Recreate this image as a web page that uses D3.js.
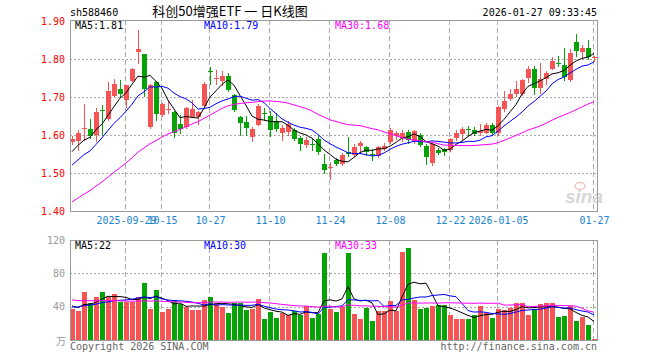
<!DOCTYPE html>
<meta charset="utf-8">
<style>

body {
  margin: 0;
  background: #fff;
}

svg {
  display: block;
  font-family: "DejaVu Sans Mono", monospace;
  font-size: 10px;
}

.frame {
  fill: none;
  stroke: #999;
  shape-rendering: crispEdges;
}

.hgrid {
  stroke: #aaa;
  stroke-dasharray: 2,2;
  shape-rendering: crispEdges;
}

.vgrid {
  stroke: #aaa;
  stroke-dasharray: 5,3;
  shape-rendering: crispEdges;
}

.ma {
  fill: none;
  stroke-width: 1;
}

.axis .domain,
.axis line {
  display: none;
}

</style>
<body>
<svg id="chart" width="660" height="360"></svg>
<script src="https://cdn.jsdelivr.net/npm/d3@7"></script>
<script>

var dates = [
  "2025-09-16","2025-09-17","2025-09-18","2025-09-19","2025-09-22","2025-09-23","2025-09-24","2025-09-25","2025-09-26","2025-09-29","2025-09-30",
  "2025-10-09","2025-10-10","2025-10-13","2025-10-14","2025-10-15","2025-10-16","2025-10-17","2025-10-20","2025-10-21","2025-10-22","2025-10-23","2025-10-24","2025-10-27","2025-10-28","2025-10-29","2025-10-30","2025-10-31",
  "2025-11-03","2025-11-04","2025-11-05","2025-11-06","2025-11-07","2025-11-10","2025-11-11","2025-11-12","2025-11-13","2025-11-14","2025-11-17","2025-11-18","2025-11-19","2025-11-20","2025-11-21","2025-11-24","2025-11-25","2025-11-26","2025-11-27","2025-11-28",
  "2025-12-01","2025-12-02","2025-12-03","2025-12-04","2025-12-05","2025-12-08","2025-12-09","2025-12-10","2025-12-11","2025-12-12","2025-12-15","2025-12-16","2025-12-17","2025-12-18","2025-12-19","2025-12-22","2025-12-23","2025-12-24","2025-12-25","2025-12-26","2025-12-29","2025-12-30","2025-12-31",
  "2026-01-05","2026-01-06","2026-01-07","2026-01-08","2026-01-09","2026-01-12","2026-01-13","2026-01-14","2026-01-15","2026-01-16","2026-01-19","2026-01-20","2026-01-21","2026-01-22","2026-01-23","2026-01-26","2026-01-27"
];

var open = [
  1.581,1.583,1.615,1.617,1.601,1.665,1.643,1.704,1.722,1.691,1.744,
  1.816,1.814,1.622,1.739,1.652,1.667,1.661,1.629,1.621,1.649,1.649,1.678,1.769,1.747,1.744,1.756,1.704,
  1.647,1.633,1.597,1.627,1.657,1.649,1.636,1.605,1.610,1.614,1.592,1.576,1.577,1.590,1.525,1.512,1.535,1.525,1.555,1.548,
  1.570,1.568,1.549,1.544,1.563,1.581,1.595,1.590,1.607,1.583,1.601,1.570,1.526,1.561,1.562,1.561,1.590,1.604,1.617,1.614,1.604,1.607,1.627,
  1.605,1.667,1.695,1.709,1.709,1.750,1.774,1.724,1.746,1.776,1.790,1.785,1.744,1.844,1.820,1.829,1.802
];

var high = [
  1.598,1.614,1.682,1.643,1.670,1.680,1.739,1.747,1.746,1.731,1.776,
  1.877,1.814,1.735,1.742,1.684,1.693,1.663,1.652,1.674,1.693,1.663,1.740,1.779,1.772,1.768,1.763,1.709,
  1.650,1.649,1.621,1.682,1.671,1.662,1.658,1.625,1.636,1.618,1.598,1.595,1.589,1.601,1.550,1.528,1.539,1.553,1.595,1.575,
  1.585,1.572,1.563,1.572,1.578,1.618,1.610,1.614,1.612,1.614,1.605,1.575,1.579,1.565,1.566,1.592,1.614,1.620,1.623,1.621,1.630,1.632,1.632,
  1.676,1.715,1.721,1.741,1.748,1.781,1.781,1.789,1.768,1.805,1.809,1.829,1.825,1.867,1.837,1.849,1.809
];

var low = [
  1.577,1.560,1.588,1.592,1.583,1.601,1.640,1.702,1.700,1.674,1.741,
  1.789,1.702,1.619,1.640,1.649,1.658,1.595,1.605,1.618,1.647,1.630,1.676,1.735,1.735,1.732,1.715,1.662,
  1.601,1.601,1.583,1.625,1.640,1.597,1.610,1.588,1.601,1.588,1.560,1.568,1.561,1.551,1.500,1.485,1.522,1.522,1.544,1.544,
  1.553,1.548,1.535,1.541,1.560,1.578,1.590,1.583,1.580,1.579,1.570,1.525,1.522,1.550,1.547,1.557,1.588,1.586,1.601,1.601,1.601,1.604,1.601,
  1.601,1.662,1.693,1.702,1.706,1.739,1.709,1.711,1.733,1.774,1.781,1.746,1.741,1.807,1.803,1.800,1.796
];

var close = [
  1.590,1.604,1.618,1.599,1.661,1.662,1.717,1.735,1.709,1.731,1.775,
  1.825,1.721,1.732,1.654,1.682,1.669,1.605,1.617,1.671,1.669,1.661,1.735,1.766,1.749,1.756,1.719,1.665,
  1.630,1.618,1.617,1.677,1.655,1.611,1.614,1.618,1.630,1.590,1.575,1.588,1.575,1.557,1.509,1.515,1.525,1.548,1.550,1.568,
  1.579,1.554,1.547,1.568,1.572,1.612,1.604,1.604,1.585,1.610,1.575,1.540,1.575,1.554,1.554,1.590,1.604,1.617,1.616,1.604,1.610,1.627,1.606,
  1.674,1.689,1.709,1.722,1.746,1.774,1.724,1.747,1.763,1.796,1.789,1.754,1.815,1.820,1.830,1.805,1.804
];

var volume = [
  37.2,34.8,57.6,44.8,51.2,57.6,51.2,55.2,45.6,45.6,45.6,
  51.2,68.8,37.2,60,33.6,37.2,48,43.2,39.6,36.4,36.4,48,52,44,40,33,44.8,
  44.8,36,37,49.6,25.2,34,26.8,32,30,35.2,30,41.2,26.8,31.2,104.8,37.2,33.6,39.6,104.8,31.2,
  25.2,38.8,22.8,35.2,35.2,46.8,35.2,106,110.8,48,37.2,38.8,40.4,41.6,41.6,30,25.2,25.2,25.2,30,40.4,32,26.8,
  37.2,36,39,44,44,30,37.2,43.2,44.8,44.8,27.6,28.8,41,23,27.6,18,1.2
];

// closes and volumes of the 29 sessions before the window, for the averages
var prevClose = [
  1.30,1.31,1.32,1.31,1.33,1.34,1.35,1.34,1.36,1.37,1.38,1.39,1.40,1.41,1.40,1.42,1.43,1.44,1.45,1.46,
  1.47,1.48,1.50,1.49,1.49,
  1.52,1.55,1.56,1.56
];

var prevVolume = [
  55,60,48,52,58,45,50,62,54,48,50,56,47,53,49,51,55,46,52,53,
  36,40,38,41,37,
  44,40,42,41
];

var tickDates = ["2025-09-29","2025-10-15","2025-10-27","2025-11-10","2025-11-24","2025-12-08","2025-12-22","2026-01-05","2026-01-27"];
var tickLabels = ["2025-09-29","10-15","10-27","11-10","11-24","12-08","12-22","2026-01-05","01-27"];
var priceTicks = [1.40, 1.50, 1.60, 1.70, 1.80, 1.90];
var volumeTicks = [40, 80, 120];
var maPeriods = [5, 10, 30];
var maColors = ["#000", "#00f", "#f0f"];

var left = 70, right = 597,
    priceTop = 20, priceBottom = 211,
    volTop = 240, volBottom = 340;

var up = "#f65455", down = "#06a306";

var svg = d3.select("#chart");

var x = d3.scalePoint().domain(dates).range([72, 594]);
var y = d3.scaleLinear().domain([1.40, 1.90]).range([211, 21]);
var yv = d3.scaleLinear().domain([0, 120]).range([340, 240]);

function movingAverage(values, history, n) {
  var all = history.concat(values);
  return values.map(function(d, i) {
    var end = history.length + i + 1;
    return d3.mean(all.slice(end - n, end));
  });
}

// sina cuts the legend values instead of rounding them
function cut(v, digits) {
  var k = Math.pow(10, digits);
  return (Math.floor(v * k + 1e-9) / k).toFixed(digits);
}

function color(i) { return close[i] >= open[i] ? up : down; }
function px(v) { return Math.round(v) + 0.5; }

var defs = svg.append("defs");
defs.append("clipPath").attr("id", "clip-price").append("rect")
    .attr("x", left + 1).attr("y", priceTop + 1)
    .attr("width", right - left - 1).attr("height", priceBottom - priceTop - 1);
defs.append("clipPath").attr("id", "clip-vol").append("rect")
    .attr("x", left + 1).attr("y", volTop + 1)
    .attr("width", right - left - 1).attr("height", volBottom - volTop);

// header
svg.append("text").attr("x", left).attr("y", 16).text("sh588460");
svg.append("text").attr("x", 230).attr("y", 16)
    .attr("text-anchor", "middle")
    .style("font-family", "'Noto Sans CJK SC', sans-serif")
    .style("font-size", "13px")
    .text("科创50增强ETF 一 日K线图");
svg.append("text").attr("x", right).attr("y", 16)
    .attr("text-anchor", "end").text("2026-01-27 09:33:45");

// grids
[[priceTop, priceBottom, priceTicks.slice(1, -1), y], [volTop, volBottom, volumeTicks.slice(0, -1), yv]].forEach(function(p) {
  svg.append("g").selectAll("line")
      .data(p[2])
    .enter().append("line")
      .attr("class", "hgrid")
      .attr("x1", left).attr("x2", right)
      .attr("y1", function(d) { return px(p[3](d)); })
      .attr("y2", function(d) { return px(p[3](d)); });
  svg.append("g").selectAll("line")
      .data(tickDates)
    .enter().append("line")
      .attr("class", "vgrid")
      .attr("x1", function(d) { return px(x(d)) - 1; })
      .attr("x2", function(d) { return px(x(d)) - 1; })
      .attr("y1", p[0]).attr("y2", p[1]);
});

// sina watermark
var mark = svg.append("g").attr("transform", "translate(565,203)");
mark.append("text")
    .style("font-family", "'Liberation Sans', sans-serif")
    .style("font-size", "19px").style("font-weight", "bold").style("font-style", "italic")
    .attr("fill", "#d8d8d8").text("sina");
mark.append("ellipse").attr("cx", 15).attr("cy", -17).attr("rx", 5).attr("ry", 3.5)
    .attr("fill", "none").attr("stroke", "#f2c4c4").attr("stroke-width", 1.5);

// candles
var candle = svg.append("g").attr("clip-path", "url(#clip-price)")
    .selectAll("g")
    .data(d3.range(dates.length))
  .enter().append("g");

candle.append("line")
    .attr("x1", function(i) { return px(x(dates[i])); })
    .attr("x2", function(i) { return px(x(dates[i])); })
    .attr("y1", function(i) { return Math.round(y(high[i])); })
    .attr("y2", function(i) { return Math.round(y(low[i])) + 1; })
    .attr("stroke", color)
    .style("shape-rendering", "crispEdges");

candle.append("rect")
    .attr("x", function(i) { return Math.round(x(dates[i])) - 2; })
    .attr("width", 5)
    .attr("y", function(i) { return Math.round(y(Math.max(open[i], close[i]))); })
    .attr("height", function(i) { return Math.max(1, Math.round(Math.abs(y(open[i]) - y(close[i])))); })
    .attr("fill", color)
    .style("shape-rendering", "crispEdges");

// volume bars
svg.append("g").attr("clip-path", "url(#clip-vol)")
    .selectAll("rect")
    .data(d3.range(dates.length))
  .enter().append("rect")
    .attr("x", function(i) { return Math.round(x(dates[i])) - 2; })
    .attr("width", 5)
    .attr("y", function(i) { return Math.round(yv(volume[i])); })
    .attr("height", function(i) { return volBottom - Math.round(yv(volume[i])); })
    .attr("fill", color)
    .style("shape-rendering", "crispEdges");

// moving averages
var priceMA = maPeriods.map(function(n) { return movingAverage(close, prevClose, n); });
var volMA = maPeriods.map(function(n) { return movingAverage(volume, prevVolume, n); });

var priceLine = d3.line()
    .x(function(d, i) { return x(dates[i]); })
    .y(function(d) { return y(d); });
var volLine = d3.line()
    .x(function(d, i) { return x(dates[i]); })
    .y(function(d) { return yv(d); });

var gma = svg.append("g").attr("clip-path", "url(#clip-price)");
var gvma = svg.append("g").attr("clip-path", "url(#clip-vol)");
maPeriods.forEach(function(n, k) {
  gma.append("path").attr("class", "ma").attr("stroke", maColors[k]).attr("d", priceLine(priceMA[k]));
  gvma.append("path").attr("class", "ma").attr("stroke", maColors[k]).attr("d", volLine(volMA[k]));
});

// legends
var legendX = [75, 204, 335];
maPeriods.forEach(function(n, k) {
  svg.append("text").attr("x", legendX[k]).attr("y", 29).attr("fill", maColors[k])
      .text("MA" + n + ":" + cut(priceMA[k][priceMA[k].length - 1], 2));
  svg.append("text").attr("x", legendX[k]).attr("y", 249).attr("fill", maColors[k])
      .text("MA" + n + ":" + cut(volMA[k][volMA[k].length - 1], 0));
});

// frames
svg.append("rect").attr("class", "frame")
    .attr("x", left + 0.5).attr("y", priceTop + 0.5)
    .attr("width", right - left).attr("height", priceBottom - priceTop);
svg.append("rect").attr("class", "frame")
    .attr("x", left + 0.5).attr("y", volTop + 0.5)
    .attr("width", right - left).attr("height", volBottom - volTop);

// axes
svg.append("g").attr("class", "axis")
    .attr("transform", "translate(" + left + ",0)")
    .call(d3.axisLeft(y).tickValues(priceTicks).tickFormat(d3.format(".2f")).tickSize(0).tickPadding(5))
    .call(function(g) { g.selectAll("text").attr("fill", "#f00"); })
    .attr("font-family", null).attr("font-size", null);

svg.append("g").attr("class", "axis")
    .attr("transform", "translate(" + left + ",0)")
    .call(d3.axisLeft(yv).tickValues(volumeTicks).tickSize(0).tickPadding(5))
    .call(function(g) { g.selectAll("text").attr("fill", "#999"); })
    .attr("font-family", null).attr("font-size", null);

svg.append("g").attr("class", "axis")
    .attr("transform", "translate(0," + priceBottom + ")")
    .call(d3.axisBottom(x).tickValues(tickDates)
      .tickFormat(function(d, i) { return tickLabels[i]; }).tickSize(0).tickPadding(6))
    .call(function(g) { g.selectAll("text").attr("fill", "#1a84d0"); })
    .attr("font-family", null).attr("font-size", null);

svg.append("text").attr("x", 66).attr("y", 345).attr("text-anchor", "end")
    .attr("fill", "#999")
    .style("font-family", "'Noto Sans CJK SC', sans-serif")
    .text("万");

// footer
svg.append("text").attr("x", left).attr("y", 350).attr("fill", "#666").text("Copyright 2026 SINA.COM");
svg.append("text").attr("x", right).attr("y", 350).attr("text-anchor", "end").attr("fill", "#666").text("http://finance.sina.com.cn");

</script>
